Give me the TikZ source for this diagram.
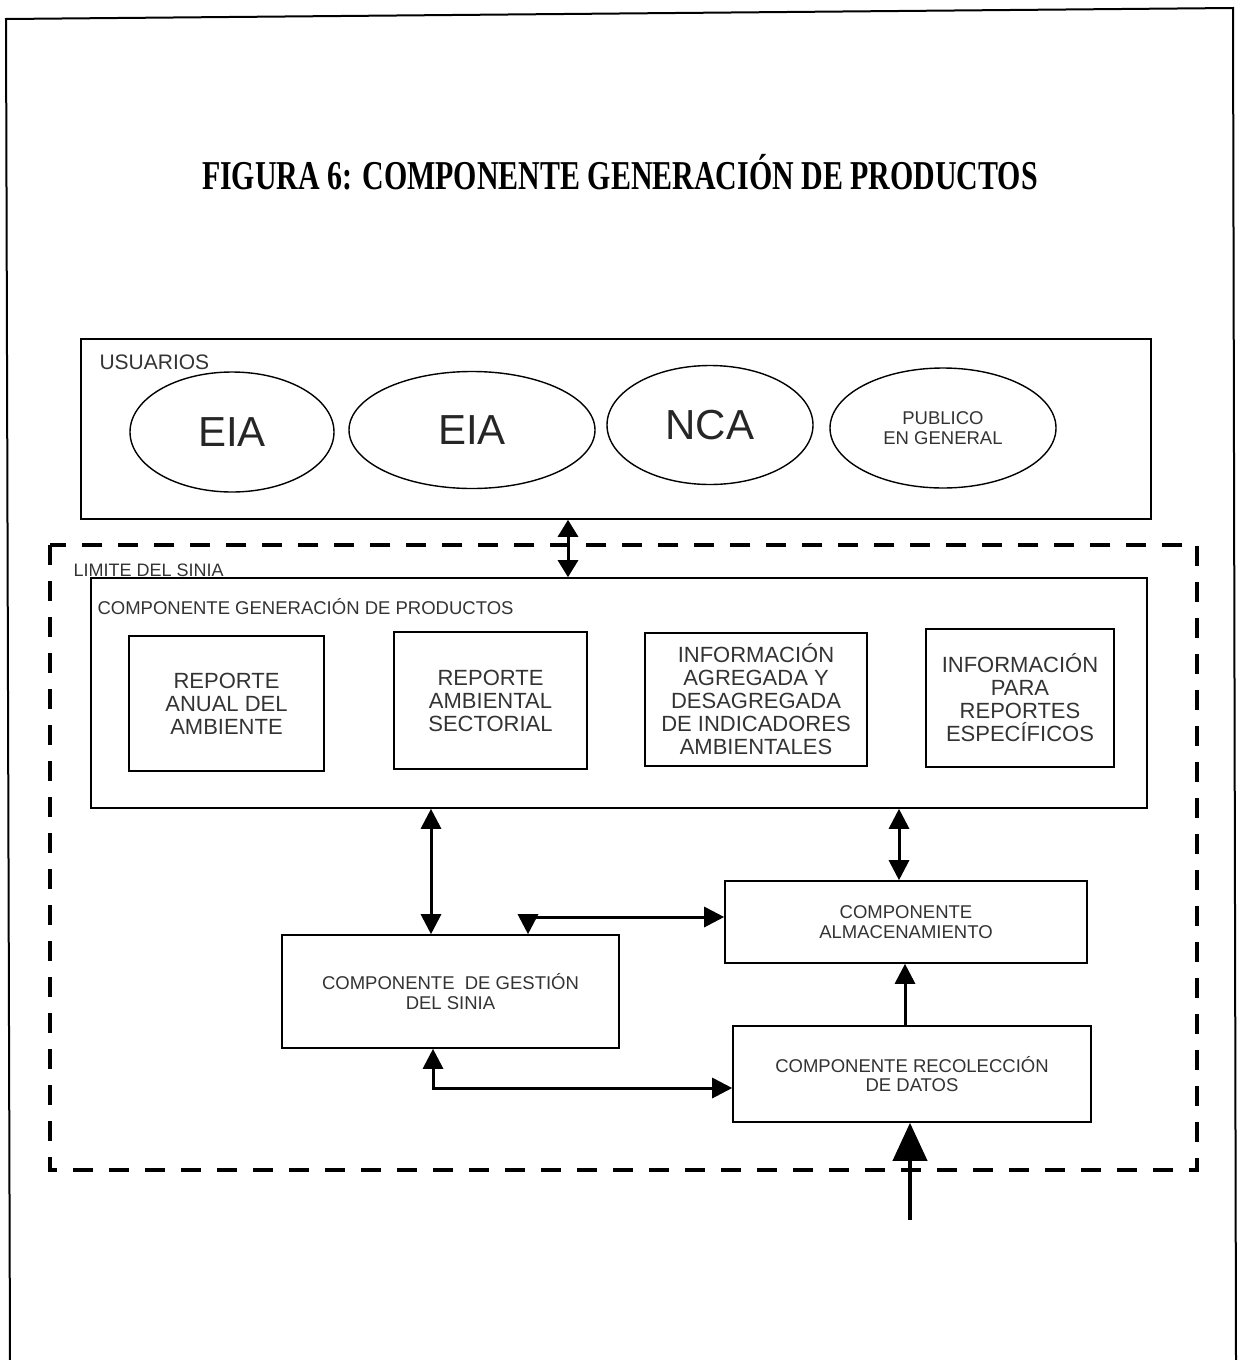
\documentclass[tikz,border=0pt]{standalone}
\usepackage{fontspec}
\setmainfont{Liberation Serif}
\setsansfont{Liberation Sans}
\usetikzlibrary{arrows.meta,shapes.geometric}
\begin{document}
\begin{tikzpicture}[x=1pt,y=-1pt,
  small/.style={font=\sffamily\fontsize{18.5}{19.5}\selectfont, text=black!80, align=center},
  mid/.style={font=\sffamily\fontsize{22}{23}\selectfont, text=black!80, align=center},
  huge/.style={font=\sffamily\fontsize{42}{44}\selectfont, text=black!85, align=center},
  ell/.style={draw, ellipse, line width=1.4pt, inner sep=0pt},
  box/.style={draw, line width=1.6pt, inner sep=0pt, align=center},
  arr/.style={line width=3pt, -{Triangle[width=20pt,length=20pt]}},
  dbl/.style={line width=3pt, {Triangle[width=20pt,length=20pt]}-{Triangle[width=20pt,length=20pt]}},
]
\useasboundingbox (0,0) rectangle (1239,1360);
% page frame
\draw[line width=2pt] (10,1362) -- (6,19) -- (1233,8) -- (1236,1362);
% title
\node[text=black] (title) at (620,172) {\scalebox{0.73}[1]{\fontsize{41}{41}\selectfont\bfseries FIGURA 6: COMPONENTE GENERACIÓN DE PRODUCTOS}};
% usuarios
\node[box, minimum width=1070pt, minimum height=180pt] (usu) at (616,429) {};
\node[anchor=west, font=\sffamily\fontsize{21}{22}\selectfont, text=black!80] (usulbl) at (96,362) {USUARIOS};
\node[ell, huge, minimum width=204pt, minimum height=120pt] (e1) at (232,432) {EIA};
\node[ell, huge, minimum width=246pt, minimum height=117pt] (e2) at (472,430) {EIA};
\node[ell, huge, minimum width=206pt, minimum height=119pt] (e3) at (710,425) {NCA};
\node[ell, small, minimum width=226pt, minimum height=120pt] (e4) at (943,428) {PUBLICO\\EN GENERAL};
% limite
\draw[line width=4pt, dash pattern=on 20pt off 16pt] (50,545) rectangle (1197,1170);
\node[anchor=west, font=\sffamily\fontsize{18}{19}\selectfont, text=black!80] (limlbl) at (70,570) {LIMITE DEL SINIA};
% generacion
\node[box, minimum width=1056pt, minimum height=230pt] (gen) at (619,693) {};
\node[anchor=west, font=\sffamily\fontsize{18.5}{19.5}\selectfont, text=black!80] (genlbl) at (94,607) {COMPONENTE GENERACIÓN DE PRODUCTOS};
\node[box, mid, minimum width=195pt, minimum height=135pt] (p1) at (226.5,703.5) {REPORTE\\ANUAL DEL\\AMBIENTE};
\node[box, mid, minimum width=193pt, minimum height=137pt] (p2) at (490.5,700.5) {REPORTE\\AMBIENTAL\\SECTORIAL};
\node[box, mid, minimum width=222pt, minimum height=133pt] (p3) at (756,699.5) {INFORMACIÓN\\AGREGADA Y\\DESAGREGADA\\DE INDICADORES\\AMBIENTALES};
\node[box, mid, minimum width=188pt, minimum height=138pt] (p4) at (1020,698) {INFORMACIÓN\\PARA\\REPORTES\\ESPECÍFICOS};
% lower components
\node[box, small, minimum width=337pt, minimum height=113pt] (ges) at (450.5,991.5) {COMPONENTE \ DE GESTIÓN\\DEL SINIA};
\node[box, small, minimum width=362pt, minimum height=82pt] (alm) at (906,922) {COMPONENTE\\ALMACENAMIENTO};
\node[box, small, minimum width=358pt, minimum height=96pt] (rec) at (912,1074) {COMPONENTE RECOLECCIÓN\\DE DATOS};
% helper coordinates
\coordinate (xu) at (568,0);
\coordinate (xa) at (431,0);
\coordinate (xb) at (899,0);
\coordinate (xc) at (528,0);
\coordinate (yc) at (0,917);
\coordinate (xd) at (433,0);
\coordinate (yd) at (0,1088);
\coordinate (xe) at (905,0);
\coordinate (src) at (910,1220);
% connectors
\draw[line width=3pt, {Triangle[width=20pt,length=17pt]}-{Triangle[width=20pt,length=17pt]}] (usu.south -| xu) -- (gen.north -| xu);
\draw[dbl] (gen.south -| xa) -- (ges.north -| xa);
\draw[dbl] (gen.south -| xb) -- (alm.north -| xb);
\draw[dbl] (ges.north -| xc) |- (alm.west |- yc);
\draw[dbl] (ges.south -| xd) |- (rec.west |- yd);
\draw[arr] (rec.north -| xe) -- (alm.south -| xe);
\draw[line width=4pt, -{Triangle[width=34pt,length=38pt]}] (src) -- (rec.south -| src);
\end{tikzpicture}
\end{document}
